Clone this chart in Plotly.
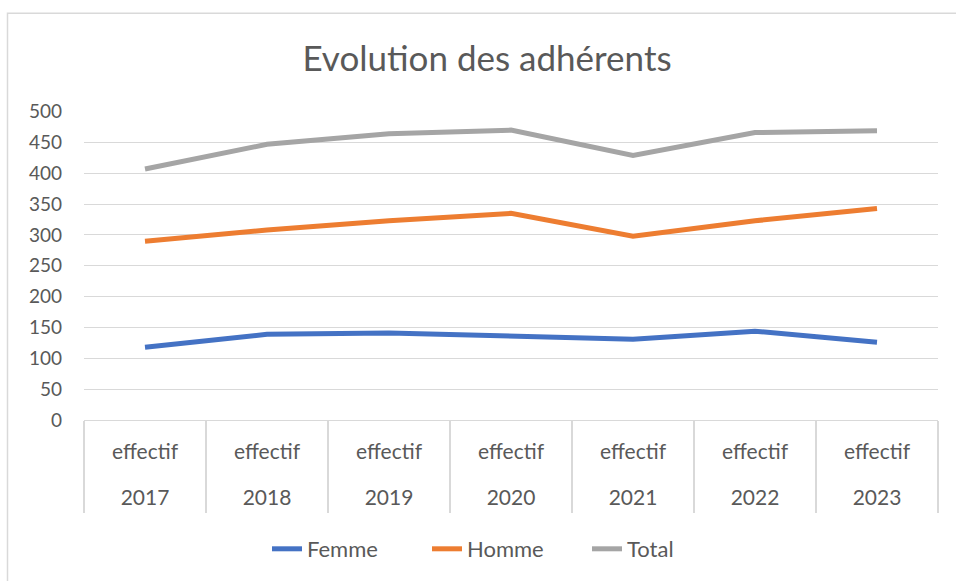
import plotly.graph_objects as go

years = ["2017", "2018", "2019", "2020", "2021", "2022", "2023"]
inner = ["effectif"] * 7
femme = [118, 139, 141, 135, 131, 144, 126]
homme = [290, 308, 323, 335, 298, 323, 343]
total = [407, 447, 464, 470, 429, 466, 469]

fig = go.Figure()
for name, vals, color in [("Femme", femme, "#4472C4"),
                          ("Homme", homme, "#ED7D31"),
                          ("Total", total, "#A5A5A5")]:
    fig.add_trace(go.Scatter(x=years, y=vals, name=name, mode="lines",
                             line=dict(color=color, width=5)))

# empty helper traces so the overlay axes (separators, year row) are drawn
for ax in ("x2", "x3"):
    fig.add_trace(go.Scatter(x=[], y=[], xaxis=ax, yaxis="y",
                             showlegend=False, hoverinfo="skip"))

W, H = 956, 581
L, R, T, B = 84, 18, 111, 160
pw, ph = W - L - R, H - T - B
n = len(years)
xr = [-0.5, n - 0.5]

def px_x(p):
    return (p - L) / pw

def px_y(p):
    return (H - B - p) / ph

grey = "#D9D9D9"
txt = "#595959"

fig.update_layout(
    width=W, height=H,
    margin=dict(l=L, r=R, t=T, b=B),
    paper_bgcolor="white", plot_bgcolor="white",
    font=dict(family="Lato, Carlito, sans-serif", color=txt),
    title=dict(text="Evolution des adhérents", x=487 / W, xanchor="center",
               y=1 - 59 / H, yanchor="middle",
               font=dict(size=35, color=txt)),
    showlegend=True,
    legend=dict(orientation="h", x=px_x(507), xanchor="center",
                y=px_y(549), yanchor="middle",
                font=dict(size=22, color=txt),
                entrywidth=115, entrywidthmode="pixels"),
    xaxis=dict(type="category", categoryarray=years, range=xr,
               tickvals=years, ticktext=inner,
               showgrid=False, zeroline=False,
               showline=True, linecolor=grey, linewidth=1.2,
               ticks="", ticklabelstandoff=13,
               tickfont=dict(size=21, color=txt)),
    xaxis2=dict(overlaying="x", anchor="y", side="bottom", type="linear",
                range=xr, tickvals=[i - 0.5 for i in range(n + 1)],
                ticks="outside", ticklen=92, tickwidth=1.5, tickcolor=grey,
                showticklabels=False, showgrid=False, zeroline=False,
                showline=False),
    xaxis3=dict(overlaying="x", anchor="y", side="bottom", type="linear",
                range=xr, tickvals=list(range(n)), ticktext=years,
                ticks="", ticklabelstandoff=63,
                tickfont=dict(size=21, color=txt),
                showgrid=False, zeroline=False, showline=False),
    yaxis=dict(range=[0, 501], dtick=50, tick0=0, showgrid=True,
               gridcolor=grey, gridwidth=1.2, zeroline=False,
               showline=False, ticks="", ticklabelstandoff=21,
               tickfont=dict(size=19, color=txt)),
    shapes=[dict(type="rect", xref="paper", yref="paper",
                 x0=px_x(7.5), x1=px_x(970), y0=px_y(600), y1=px_y(13),
                 line=dict(color=grey, width=1.5), layer="below")],
)

fig.write_html("out.html", config={"displayModeBar": False},
               post_script="document.body.style.margin='0';")
